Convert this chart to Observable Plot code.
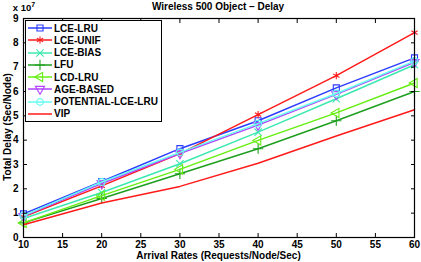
<!DOCTYPE html>
<html>
<head>
<meta charset="utf-8">
<script src="https://cdn.jsdelivr.net/npm/d3@7"></script>
<script src="https://cdn.jsdelivr.net/npm/@observablehq/plot@0.6"></script>
<style>
  html, body { margin: 0; padding: 0; background: #fff; }
  #wrap { position: relative; width: 421px; height: 262px; font-family: "Liberation Sans", Arial, sans-serif; }
  #legend { position: absolute; left: 25px; top: 20px; width: 135px; height: 100px; border: 1px solid #000; background: #fff; }
  .row { position: absolute; left: 0; height: 12px; display: flex; align-items: center; font: bold 10px "Liberation Sans", Arial, sans-serif; color: #000; white-space: nowrap; }
  .row svg { display: block; margin-left: 2px; margin-right: 2px; }
</style>
</head>
<body>
<div id="wrap"></div>
<script>
const rates = [10, 20, 30, 40, 50, 60];
const seriesNames = ["LCE-LRU", "LCE-UNIF", "LCE-BIAS", "LFU", "LCD-LRU", "AGE-BASED", "POTENTIAL-LCE-LRU", "VIP"];
const lceLru    = [0.97, 2.30, 3.65, 4.80, 6.15, 7.38];
const lceUnif   = [0.85, 2.12, 3.45, 5.05, 6.65, 8.42];
const lceBias   = [0.78, 1.85, 3.03, 4.33, 5.70, 7.10];
const lfu       = [0.60, 1.60, 2.62, 3.65, 4.80, 6.00];
const lcdLru    = [0.60, 1.72, 2.80, 3.99, 5.12, 6.35];
const ageBased  = [0.88, 2.22, 3.45, 4.62, 5.88, 7.20];
const potential = [0.90, 2.28, 3.50, 4.68, 5.92, 7.25];
const vip       = [0.52, 1.42, 2.10, 3.05, 4.17, 5.25];
const xTicks = [10, 15, 20, 25, 30, 35, 40, 45, 50, 55, 60];
const yTicks = [0, 1, 2, 3, 4, 5, 6, 7, 8, 9];

const seriesValues = [lceLru, lceUnif, lceBias, lfu, lcdLru, ageBased, potential, vip];
const colors  = ["#2b3cff", "#ff1a1a", "#3de8b0", "#1e9e1e", "#66ee11", "#b044ff", "#66ffee", "#ff1a1a"];
const symbols = ["square", "asterisk", "times", "plus", "triangle", "triangle", "circle", null];
const rotates = [0, 0, 0, 0, -90, 180, 0, 0];

const rows = [];
seriesNames.forEach((name, i) => {
  seriesValues[i].forEach((v, j) => rows.push({series: name, x: rates[j], y: v, i}));
});

const marks = [];
seriesNames.forEach((name, i) => {
  const data = rows.filter(d => d.series === name);
  marks.push(Plot.line(data, {x: "x", y: "y", stroke: colors[i], strokeWidth: 1.5}));
  if (symbols[i]) {
    marks.push(Plot.dot(data, {x: "x", y: "y", stroke: colors[i], fill: "none", symbol: symbols[i], r: 3.4, strokeWidth: 1.1, rotate: rotates[i]}));
  }
});

const chart = Plot.plot({
  width: 421,
  height: 262,
  marginLeft: 23,
  marginRight: 7,
  marginTop: 18,
  marginBottom: 25,
  style: {fontFamily: "Liberation Sans, Arial, sans-serif", fontSize: "10px", fontWeight: "bold", background: "#fff", overflow: "visible"},
  x: {domain: [10, 60]},
  y: {domain: [0, 9]},
  marks: [
    ...marks,
    Plot.frame({stroke: "#000", strokeWidth: 1.2}),
    Plot.axisX({ticks: xTicks, anchor: "bottom", tickSize: -4, tickPadding: 7, label: null, tickFormat: d => String(d), fill: "#000", stroke: "#000"}),
    Plot.axisX({ticks: xTicks, anchor: "top", tickSize: -4, label: null, tickFormat: () => "", stroke: "#000"}),
    Plot.axisY({ticks: yTicks, anchor: "left", tickSize: -4, tickPadding: 9, label: null, tickFormat: d => String(d), fill: "#000", stroke: "#000"}),
    Plot.axisY({ticks: yTicks, anchor: "right", tickSize: -4, label: null, tickFormat: () => "", stroke: "#000"})
  ]
});

const wrap = document.getElementById("wrap");
wrap.appendChild(chart);

// extra texts inside the svg
const svg = d3.select(chart);
svg.append("text").attr("x", 218).attr("y", 10).attr("text-anchor", "middle")
  .style("font", "bold 10px 'Liberation Sans', Arial, sans-serif").text("Wireless 500 Object \u2013 Delay");
const exp = svg.append("text").attr("x", 24).attr("y", 11)
  .style("font", "bold 9.5px 'Liberation Sans', Arial, sans-serif");
exp.append("tspan").text("x 10");
exp.append("tspan").attr("dy", -4.5).style("font-size", "7px").text("7");
svg.append("text").attr("x", 218.5).attr("y", 259).attr("text-anchor", "middle")
  .style("font", "bold 10px 'Liberation Sans', Arial, sans-serif").text("Arrival Rates (Requests/Node/Sec)");
svg.append("text").attr("transform", "translate(10.5,127) rotate(-90)").attr("text-anchor", "middle")
  .style("font", "bold 10px 'Liberation Sans', Arial, sans-serif").text("Total Delay (Sec/Node)");

// legend overlay
const legend = document.createElement("div");
legend.id = "legend";
wrap.appendChild(legend);
seriesNames.forEach((name, i) => {
  const row = document.createElement("div");
  row.className = "row";
  row.style.top = (1 + i * 12.25) + "px";
  legend.appendChild(row);
  const s = d3.select(row).append("svg").attr("width", 24).attr("height", 12);
  s.append("line").attr("x1", 0).attr("x2", 24).attr("y1", 6).attr("y2", 6)
    .attr("stroke", colors[i]).attr("stroke-width", 1.5);
  if (symbols[i]) {
    const symMap = {square: d3.symbolSquare, asterisk: d3.symbolAsterisk, times: d3.symbolTimes, plus: d3.symbolPlus, triangle: d3.symbolTriangle, circle: d3.symbolCircle};
    s.append("path").attr("d", d3.symbol(symMap[symbols[i]], Math.PI * 3.4 * 3.4)())
      .attr("transform", `translate(12,6) rotate(${rotates[i]})`)
      .attr("fill", "none").attr("stroke", colors[i]).attr("stroke-width", 1.1);
  }
  d3.select(row).append("span").text(name);
});
</script>
</body>
</html>
